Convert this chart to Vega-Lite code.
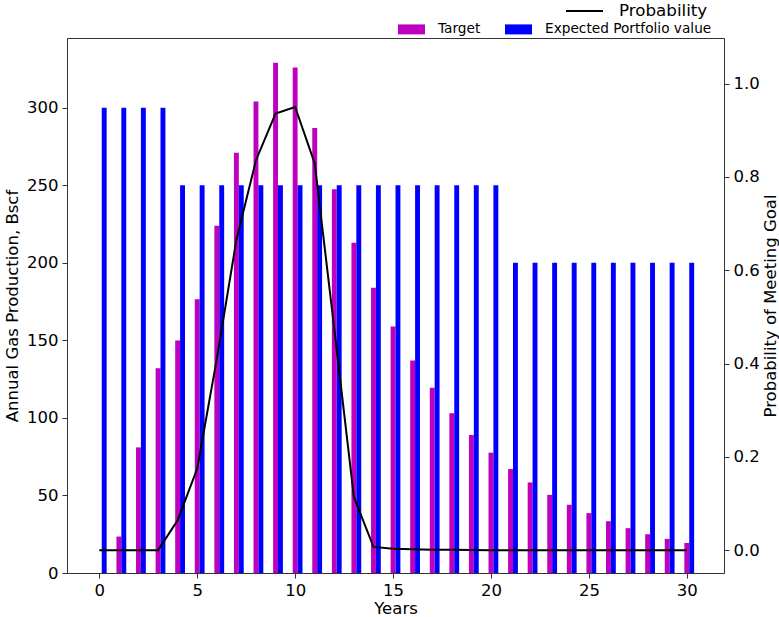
{
  "$schema": "https://vega.github.io/schema/vega-lite/v6.json",
  "width": 657,
  "height": 535,
  "autosize": {"type": "none"},
  "padding": {"left": 67, "top": 38, "right": 55, "bottom": 44},
  "background": "white",
  "config": {
    "font": "DejaVu Sans",
    "view": {"stroke": "#333", "strokeWidth": 1},
    "axis": {
      "grid": false,
      "labelFont": "DejaVu Sans",
      "titleFont": "DejaVu Sans",
      "labelFontSize": 16.5,
      "titleFontSize": 16.5,
      "titleFontWeight": "normal",
      "labelColor": "black",
      "titleColor": "black",
      "domainColor": "#333",
      "tickColor": "#333",
      "tickSize": 5,
      "labelPadding": 4,
      "titlePadding": 6
    }
  },
  "data": {
    "values": [
      {"year": 0, "target": 0, "expected": 300, "probability": 0},
      {"year": 1, "target": 23.5, "expected": 300, "probability": 0},
      {"year": 2, "target": 81, "expected": 300, "probability": 0},
      {"year": 3, "target": 132, "expected": 300, "probability": 0},
      {"year": 4, "target": 150, "expected": 250, "probability": 0.064},
      {"year": 5, "target": 176.5, "expected": 250, "probability": 0.175},
      {"year": 6, "target": 224, "expected": 250, "probability": 0.41},
      {"year": 7, "target": 271, "expected": 250, "probability": 0.665},
      {"year": 8, "target": 304, "expected": 250, "probability": 0.836},
      {"year": 9, "target": 329, "expected": 250, "probability": 0.936},
      {"year": 10, "target": 326, "expected": 250, "probability": 0.95},
      {"year": 11, "target": 287, "expected": 250, "probability": 0.829},
      {"year": 12, "target": 247.5, "expected": 250, "probability": 0.474},
      {"year": 13, "target": 213, "expected": 250, "probability": 0.114},
      {"year": 14, "target": 184, "expected": 250, "probability": 0.007},
      {"year": 15, "target": 159, "expected": 250, "probability": 0.003},
      {"year": 16, "target": 137, "expected": 250, "probability": 0.002},
      {"year": 17, "target": 119.4, "expected": 250, "probability": 0.001},
      {"year": 18, "target": 103, "expected": 250, "probability": 0.001},
      {"year": 19, "target": 89, "expected": 250, "probability": 0.0005},
      {"year": 20, "target": 77.6, "expected": 250, "probability": 0},
      {"year": 21, "target": 67, "expected": 200, "probability": 0},
      {"year": 22, "target": 58.4, "expected": 200, "probability": 0},
      {"year": 23, "target": 50.4, "expected": 200, "probability": 0},
      {"year": 24, "target": 44, "expected": 200, "probability": 0},
      {"year": 25, "target": 38.6, "expected": 200, "probability": 0},
      {"year": 26, "target": 33.4, "expected": 200, "probability": 0},
      {"year": 27, "target": 28.9, "expected": 200, "probability": 0},
      {"year": 28, "target": 25, "expected": 200, "probability": 0},
      {"year": 29, "target": 22, "expected": 200, "probability": 0},
      {"year": 30, "target": 19.4, "expected": 200, "probability": 0}
    ]
  },
  "layer": [
    {
      "layer": [
        {
          "mark": {"type": "bar", "width": 4.9},
          "encoding": {
            "x": {"field": "year", "type": "quantitative", "scale": {"domain": [-1.65, 31.9], "nice": false, "zero": false, "padding": 0},
                  "axis": {"values": [0, 5, 10, 15, 20, 25, 30], "title": "Years", "format": "d", "labelAngle": 0, "titlePadding": 2}},
            "y": {"field": "target", "type": "quantitative", "scale": {"domain": [0, 345], "nice": false, "padding": 0},
                  "axis": {"values": [0, 50, 100, 150, 200, 250, 300], "title": "Annual Gas Production, Bscf"}},
            "color": {
              "datum": "Target",
              "scale": {"domain": ["Target", "Expected Portfolio value"], "range": ["#BF00BF", "#0000FF"]},
              "legend": {
                "title": null, "orient": "none", "legendX": 331, "legendY": -22.5,
                "direction": "horizontal", "symbolType": "M-1,-0.37H1V0.37H-1Z", "symbolSize": 729,
                "symbolStrokeWidth": 0, "symbolOpacity": 1, "labelFontSize": 13.7, "labelFont": "DejaVu Sans",
                "labelColor": "black", "labelOffset": 13, "columnPadding": 24, "padding": 0, "labelLimit": 400
              }
            }
          }
        },
        {
          "mark": {"type": "bar", "width": 4.9, "xOffset": 4.9},
          "encoding": {
            "x": {"field": "year", "type": "quantitative", "scale": {"domain": [-1.65, 31.9], "nice": false, "zero": false, "padding": 0}},
            "y": {"field": "expected", "type": "quantitative", "scale": {"domain": [0, 345], "nice": false, "padding": 0}},
            "color": {"datum": "Expected Portfolio value"}
          }
        }
      ]
    },
    {
      "mark": {"type": "line", "strokeWidth": 2},
      "encoding": {
        "x": {"field": "year", "type": "quantitative", "scale": {"domain": [-1.65, 31.9], "nice": false, "zero": false, "padding": 0}},
        "y": {"field": "probability", "type": "quantitative", "scale": {"domain": [-0.049, 1.098], "nice": false, "zero": false},
              "axis": {"orient": "right", "values": [0, 0.2, 0.4, 0.6, 0.8, 1.0], "format": ".1f", "title": "Probability of Meeting Goal", "titleAngle": 270, "titleBaseline": "top", "titlePadding": 3}},
        "stroke": {
          "datum": "Probability",
          "scale": {"domain": ["Probability"], "range": ["black"]},
          "legend": {
            "title": null, "orient": "none", "legendX": 498, "legendY": -46.5,
            "symbolType": "M-1,0H1", "symbolSize": 1369, "symbolStrokeWidth": 2,
            "labelFontSize": 16.7, "labelFont": "DejaVu Sans", "labelColor": "black", "labelOffset": 15, "padding": 0
          }
        }
      }
    }
  ],
  "resolve": {"scale": {"y": "independent"}}
}
